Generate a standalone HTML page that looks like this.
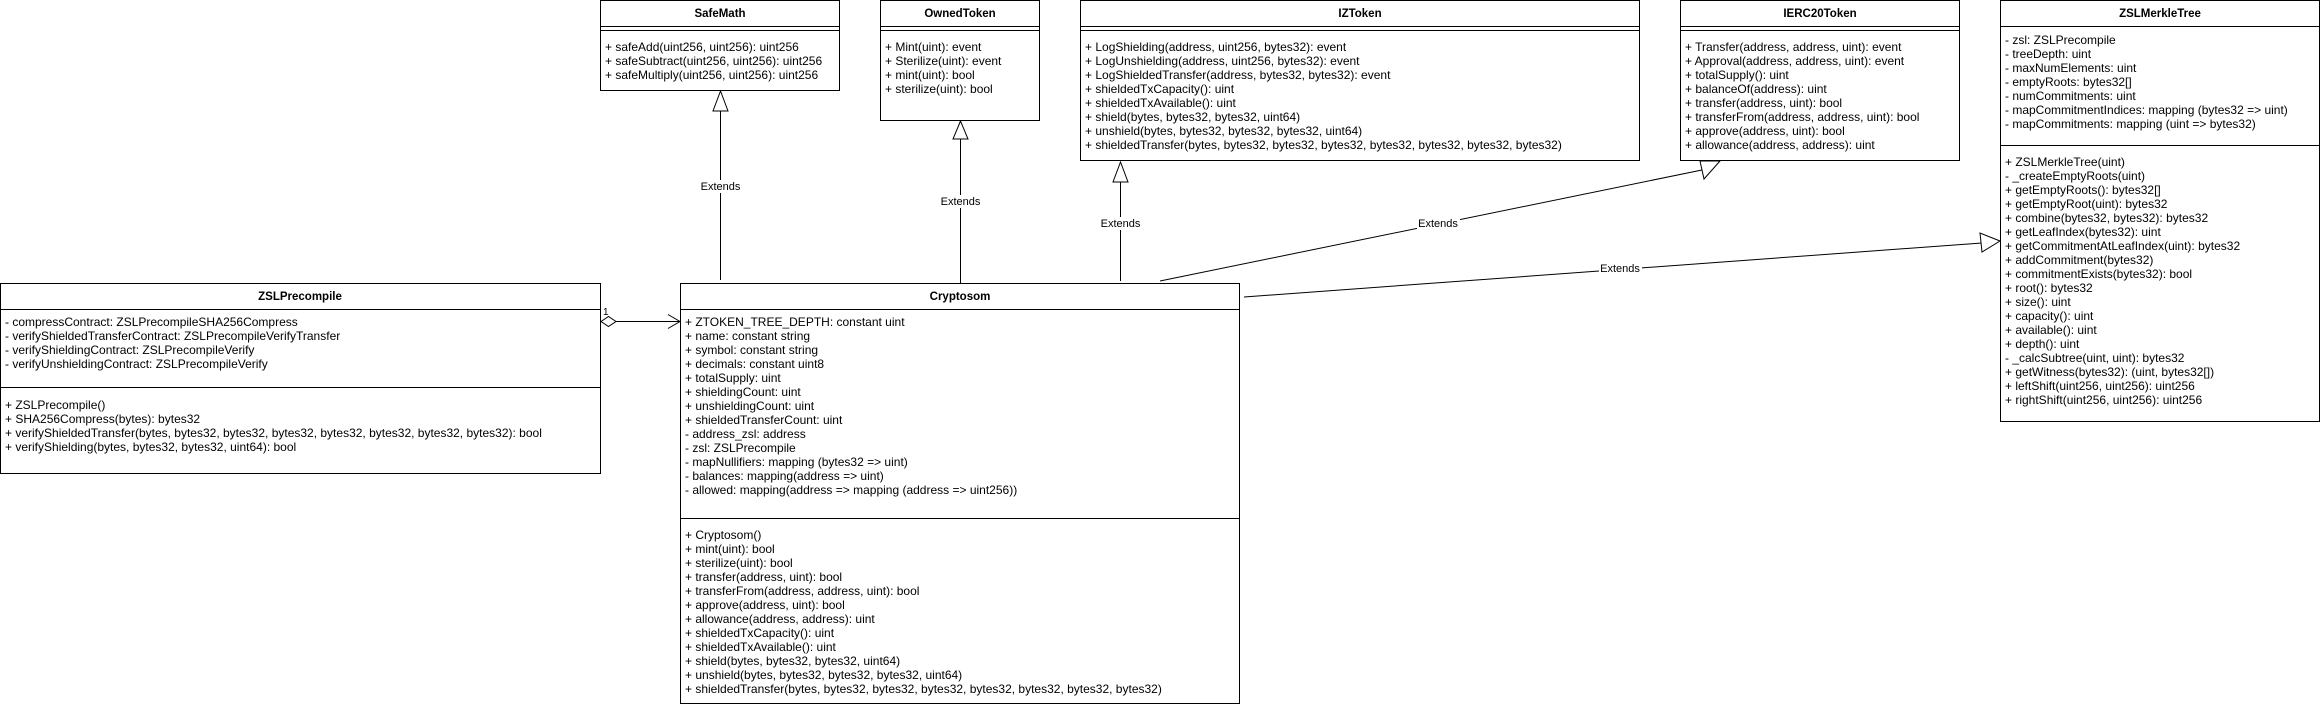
<!DOCTYPE html>
<html><head><meta charset="utf-8"><style>
html,body{margin:0;padding:0;background:#fff;}
svg text{font-family:"Liberation Sans",Arial,sans-serif;font-size:12px;fill:#000;}
.t{font-weight:bold;text-anchor:middle;font-size:11.5px;}
.l{text-anchor:middle;font-size:11px;}
</style></head><body>
<svg width="2321" height="706" viewBox="0 0 2321 706" xmlns="http://www.w3.org/2000/svg">
<g fill="#fff" stroke="#000" stroke-width="1">
<rect x="600.5" y="0.5" width="239" height="90"/>
<line x1="600" y1="26.5" x2="840" y2="26.5"/><line x1="600" y1="30.5" x2="840" y2="30.5"/>
<rect x="880.5" y="0.5" width="159" height="120"/>
<line x1="880" y1="26.5" x2="1040" y2="26.5"/><line x1="880" y1="30.5" x2="1040" y2="30.5"/>
<rect x="1080.5" y="0.5" width="559" height="160"/>
<line x1="1080" y1="26.5" x2="1640" y2="26.5"/><line x1="1080" y1="30.5" x2="1640" y2="30.5"/>
<rect x="1680.5" y="0.5" width="279" height="160"/>
<line x1="1680" y1="26.5" x2="1960" y2="26.5"/><line x1="1680" y1="30.5" x2="1960" y2="30.5"/>
<rect x="2000.5" y="0.5" width="319" height="421"/>
<line x1="2000" y1="26.5" x2="2320" y2="26.5"/><line x1="2000" y1="145.5" x2="2320" y2="145.5"/>
<rect x="0.5" y="283.5" width="600" height="190"/>
<line x1="0" y1="309.5" x2="601" y2="309.5"/><line x1="0" y1="387.5" x2="601" y2="387.5"/>
<rect x="680.5" y="283.5" width="559" height="420"/>
<line x1="680" y1="309.5" x2="1240" y2="309.5"/><line x1="680" y1="518.5" x2="1240" y2="518.5"/>
</g>
<g fill="none" stroke="#000" stroke-width="1">
<line x1="720.5" y1="280" x2="720.5" y2="111"/>
<polygon points="720.5,91 713,111 728,111" fill="#fff"/>
<line x1="960.5" y1="283" x2="960.5" y2="139"/>
<polygon points="960.5,121 953,139 968,139" fill="#fff"/>
<line x1="1120.5" y1="281" x2="1120.5" y2="182"/>
<polygon points="1120.5,162 1113,182 1128,182" fill="#fff"/>
<line x1="1160" y1="281" x2="1702" y2="170"/>
<polygon points="1720,161 1700,161 1704,179" fill="#fff"/>
<line x1="1244" y1="297" x2="1982" y2="243"/>
<polygon points="2000,241 1980,233 1982,252" fill="#fff"/>
<line x1="616" y1="321.5" x2="680" y2="321.5"/>
<polygon points="601,321.5 608.5,316.5 616,321.5 608.5,326.5" fill="#fff"/>
<polyline points="668,314.5 680,321.5 668,328.5"/>
</g>
<g>
<rect x="699" y="180" width="43" height="13" fill="#fff"/><text class="l" x="720.5" y="190">Extends</text>
<rect x="939" y="195" width="43" height="13" fill="#fff"/><text class="l" x="960.5" y="205">Extends</text>
<rect x="1099" y="217" width="43" height="13" fill="#fff"/><text class="l" x="1120.5" y="227">Extends</text>
<rect x="1417" y="217" width="43" height="13" fill="#fff"/><text class="l" x="1438" y="227">Extends</text>
<rect x="1599" y="262" width="43" height="13" fill="#fff"/><text class="l" x="1620" y="272">Extends</text>
<text x="603" y="315" style="font-size:10px">1</text>
</g>
<text class="t" x="720" y="17">SafeMath</text>
<text x="605" y="51">+ safeAdd(uint256, uint256): uint256</text>
<text x="605" y="65">+ safeSubtract(uint256, uint256): uint256</text>
<text x="605" y="79">+ safeMultiply(uint256, uint256): uint256</text>

<text class="t" x="960" y="17">OwnedToken</text>
<text x="885" y="51">+ Mint(uint): event</text>
<text x="885" y="65">+ Sterilize(uint): event</text>
<text x="885" y="79">+ mint(uint): bool</text>
<text x="885" y="93">+ sterilize(uint): bool</text>

<text class="t" x="1360" y="17">IZToken</text>
<text x="1085" y="51">+ LogShielding(address, uint256, bytes32): event</text>
<text x="1085" y="65">+ LogUnshielding(address, uint256, bytes32): event</text>
<text x="1085" y="79">+ LogShieldedTransfer(address, bytes32, bytes32): event</text>
<text x="1085" y="93">+ shieldedTxCapacity(): uint</text>
<text x="1085" y="107">+ shieldedTxAvailable(): uint</text>
<text x="1085" y="121">+ shield(bytes, bytes32, bytes32, uint64)</text>
<text x="1085" y="135">+ unshield(bytes, bytes32, bytes32, bytes32, uint64)</text>
<text x="1085" y="149">+ shieldedTransfer(bytes, bytes32, bytes32, bytes32, bytes32, bytes32, bytes32, bytes32)</text>

<text class="t" x="1820" y="17">IERC20Token</text>
<text x="1685" y="51">+ Transfer(address, address, uint): event</text>
<text x="1685" y="65">+ Approval(address, address, uint): event</text>
<text x="1685" y="79">+ totalSupply(): uint</text>
<text x="1685" y="93">+ balanceOf(address): uint</text>
<text x="1685" y="107">+ transfer(address, uint): bool</text>
<text x="1685" y="121">+ transferFrom(address, address, uint): bool</text>
<text x="1685" y="135">+ approve(address, uint): bool</text>
<text x="1685" y="149">+ allowance(address, address): uint</text>

<text class="t" x="2160" y="17">ZSLMerkleTree</text>
<text x="2005" y="44">- zsl: ZSLPrecompile</text>
<text x="2005" y="58">- treeDepth: uint</text>
<text x="2005" y="72">- maxNumElements: uint</text>
<text x="2005" y="86">- emptyRoots: bytes32[]</text>
<text x="2005" y="100">- numCommitments: uint</text>
<text x="2005" y="114">- mapCommitmentIndices: mapping (bytes32 =&gt; uint)</text>
<text x="2005" y="128">- mapCommitments: mapping (uint =&gt; bytes32)</text>
<text x="2005" y="166">+ ZSLMerkleTree(uint)</text>
<text x="2005" y="180">- _createEmptyRoots(uint)</text>
<text x="2005" y="194">+ getEmptyRoots(): bytes32[]</text>
<text x="2005" y="208">+ getEmptyRoot(uint): bytes32</text>
<text x="2005" y="222">+ combine(bytes32, bytes32): bytes32</text>
<text x="2005" y="236">+ getLeafIndex(bytes32): uint</text>
<text x="2005" y="250">+ getCommitmentAtLeafIndex(uint): bytes32</text>
<text x="2005" y="264">+ addCommitment(bytes32)</text>
<text x="2005" y="278">+ commitmentExists(bytes32): bool</text>
<text x="2005" y="292">+ root(): bytes32</text>
<text x="2005" y="306">+ size(): uint</text>
<text x="2005" y="320">+ capacity(): uint</text>
<text x="2005" y="334">+ available(): uint</text>
<text x="2005" y="348">+ depth(): uint</text>
<text x="2005" y="362">- _calcSubtree(uint, uint): bytes32</text>
<text x="2005" y="376">+ getWitness(bytes32): (uint, bytes32[])</text>
<text x="2005" y="390">+ leftShift(uint256, uint256): uint256</text>
<text x="2005" y="404">+ rightShift(uint256, uint256): uint256</text>

<text class="t" x="300" y="300">ZSLPrecompile</text>
<text x="5" y="326">- compressContract: ZSLPrecompileSHA256Compress</text>
<text x="5" y="340">- verifyShieldedTransferContract: ZSLPrecompileVerifyTransfer</text>
<text x="5" y="354">- verifyShieldingContract: ZSLPrecompileVerify</text>
<text x="5" y="368">- verifyUnshieldingContract: ZSLPrecompileVerify</text>
<text x="5" y="409">+ ZSLPrecompile()</text>
<text x="5" y="423">+ SHA256Compress(bytes): bytes32</text>
<text x="5" y="437">+ verifyShieldedTransfer(bytes, bytes32, bytes32, bytes32, bytes32, bytes32, bytes32, bytes32): bool</text>
<text x="5" y="451">+ verifyShielding(bytes, bytes32, bytes32, uint64): bool</text>

<text class="t" x="960" y="300">Cryptosom</text>
<text x="685" y="326">+ ZTOKEN_TREE_DEPTH: constant uint</text>
<text x="685" y="340">+ name: constant string</text>
<text x="685" y="354">+ symbol: constant string</text>
<text x="685" y="368">+ decimals: constant uint8</text>
<text x="685" y="382">+ totalSupply: uint</text>
<text x="685" y="396">+ shieldingCount: uint</text>
<text x="685" y="410">+ unshieldingCount: uint</text>
<text x="685" y="424">+ shieldedTransferCount: uint</text>
<text x="685" y="438">- address_zsl: address</text>
<text x="685" y="452">- zsl: ZSLPrecompile</text>
<text x="685" y="466">- mapNullifiers: mapping (bytes32 =&gt; uint)</text>
<text x="685" y="480">- balances: mapping(address =&gt; uint)</text>
<text x="685" y="494">- allowed: mapping(address =&gt; mapping (address =&gt; uint256))</text>
<text x="685" y="539">+ Cryptosom()</text>
<text x="685" y="553">+ mint(uint): bool</text>
<text x="685" y="567">+ sterilize(uint): bool</text>
<text x="685" y="581">+ transfer(address, uint): bool</text>
<text x="685" y="595">+ transferFrom(address, address, uint): bool</text>
<text x="685" y="609">+ approve(address, uint): bool</text>
<text x="685" y="623">+ allowance(address, address): uint</text>
<text x="685" y="637">+ shieldedTxCapacity(): uint</text>
<text x="685" y="651">+ shieldedTxAvailable(): uint</text>
<text x="685" y="665">+ shield(bytes, bytes32, bytes32, uint64)</text>
<text x="685" y="679">+ unshield(bytes, bytes32, bytes32, bytes32, uint64)</text>
<text x="685" y="693">+ shieldedTransfer(bytes, bytes32, bytes32, bytes32, bytes32, bytes32, bytes32, bytes32)</text>
</svg>
</body></html>
